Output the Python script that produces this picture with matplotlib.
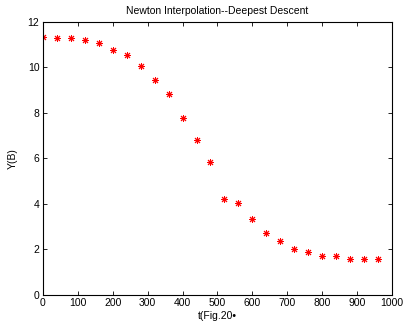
import matplotlib
matplotlib.use("Agg")
import matplotlib.pyplot as plt

# sample times and interpolated values
t = [0, 40, 80, 120, 160, 200, 240, 280, 320, 360, 400, 440, 480,
     520, 560, 600, 640, 680, 720, 760, 800, 840, 880, 920, 960]
y = [11.33, 11.31, 11.30, 11.19, 11.09, 10.77, 10.54, 10.06, 9.43, 8.82,
     7.79, 6.80, 5.84, 4.23, 4.02, 3.35, 2.73, 2.38, 2.03, 1.89,
     1.73, 1.69, 1.60, 1.59, 1.59]

plt.rcParams['font.family'] = ['Liberation Sans', 'DejaVu Sans']

fig = plt.figure(figsize=(4.08, 3.31), dpi=100)
ax = fig.add_axes([0.105, 0.109, 0.856, 0.8245])

# MATLAB-like '*' marker: + and x combined
ax.plot(t, y, linestyle='none', marker=(8, 2, 0), markersize=5,
        color='red', markeredgewidth=0.7)

ax.set_xlim(0, 1000)
ax.set_ylim(0, 12)
ax.set_xticks(range(0, 1001, 100))
ax.set_yticks(range(0, 13, 2))
ax.tick_params(direction='in', top=True, right=True, labelsize=7.5,
               length=3, width=0.6, pad=2.5)
for s in ax.spines.values():
    s.set_linewidth(0.8)

ax.set_title("Newton Interpolation--Deepest Descent", fontsize=7.5, pad=6)
ax.set_xlabel("t(Fig.20\u2022", fontsize=7.5, labelpad=2)
ax.set_ylabel("Y(B)", fontsize=7.5, labelpad=7)

fig.savefig("out.png", dpi=100)
